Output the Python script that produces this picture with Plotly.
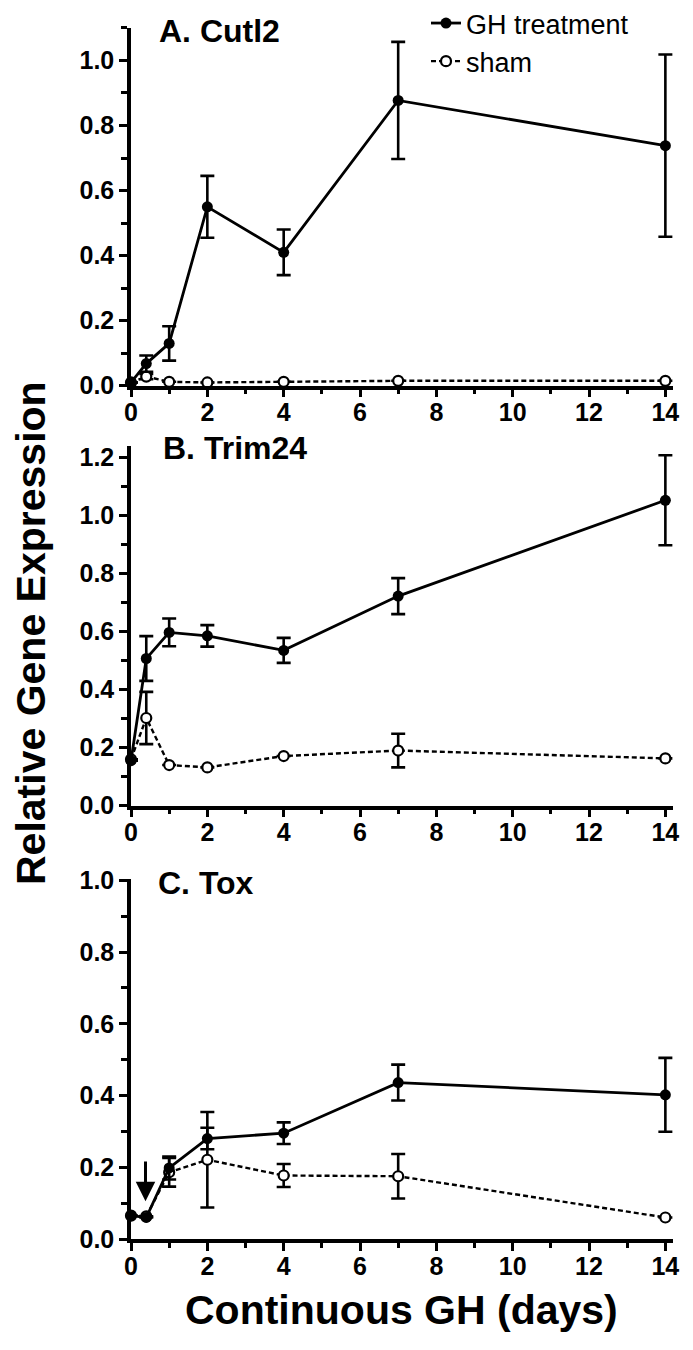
import plotly.graph_objects as go

days = [0, 0.4, 1, 2, 4, 7, 14]

cutl2_gh = [0.01, 0.068, 0.13, 0.55, 0.41, 0.877, 0.738]
cutl2_gh_err = [None, 0.025, 0.053, 0.095, 0.07, 0.18, 0.28]
cutl2_sham = [0.01, 0.028, 0.012, 0.01, 0.012, 0.015, 0.015]
cutl2_sham_err = [None, 0.008, None, None, None, None, None]

trim24_gh = [0.155, 0.507, 0.597, 0.585, 0.535, 0.722, 1.052]
trim24_gh_err = [None, 0.077, 0.048, 0.037, 0.043, 0.062, 0.155]
trim24_sham = [0.16, 0.302, 0.14, 0.132, 0.171, 0.19, 0.163]
trim24_sham_err = [None, 0.09, None, None, None, 0.058, None]

tox_gh = [0.065, 0.06, 0.198, 0.28, 0.295, 0.436, 0.402]
tox_gh_err = [None, None, 0.032, 0.03, 0.03, 0.05, 0.103]
tox_sham = [0.065, 0.063, 0.186, 0.221, 0.177, 0.175, 0.06]
tox_sham_err = [None, None, 0.04, 0.133, 0.032, 0.062, None]

panel_titles = ["A. Cutl2", "B. Trim24", "C. Tox"]
series_names = ["GH treatment", "sham"]
x_ticks = [0, 2, 4, 6, 8, 10, 12, 14]

FONT = "Liberation Sans, Arial, sans-serif"

W, H = 693, 1350
ML, MR, MT, MB = 123, 28, 19, 119
PH = H - MT - MB
PW = W - ML - MR


def py(p):
    return (H - MB - p) / PH


def px(p):
    return (p - ML) / PW


panels = [
    (cutl2_gh, cutl2_gh_err, cutl2_sham, cutl2_sham_err, [0, 1.1], [py(377.7), py(19.9)]),
    (trim24_gh, trim24_gh_err, trim24_sham, trim24_sham_err, [0, 1.24], [py(797.7), py(437.7)]),
    (tox_gh, tox_gh_err, tox_sham, tox_sham_err, [0, 1.005], [0, py(870.5)]),
]

fig = go.Figure()

layout_axes = {}
for i, (gh, gh_err, sh, sh_err, yr, dom) in enumerate(panels):
    n = i + 1
    xa = "x" if n == 1 else f"x{n}"
    ya = "y" if n == 1 else f"y{n}"
    fig.add_trace(go.Scatter(
        x=days, y=sh, name=series_names[1], xaxis=xa, yaxis=ya,
        mode="lines+markers", showlegend=(n == 1), legendrank=2,
        line=dict(color="black", width=2.4, dash="5px,3px"),
        marker=dict(symbol="circle", size=10, color="white",
                    line=dict(color="black", width=2.2)),
        error_y=dict(type="data", array=sh_err, color="black",
                     thickness=2.6, width=7),
        cliponaxis=False,
    ))
    fig.add_trace(go.Scatter(
        x=days, y=gh, name=series_names[0], xaxis=xa, yaxis=ya,
        mode="lines+markers", showlegend=(n == 1), legendrank=1,
        line=dict(color="black", width=2.8),
        marker=dict(symbol="circle", size=11, color="black"),
        error_y=dict(type="data", array=gh_err, color="black",
                     thickness=2.6, width=7),
        cliponaxis=False,
    ))
    xkey = "xaxis" if n == 1 else f"xaxis{n}"
    ykey = "yaxis" if n == 1 else f"yaxis{n}"
    layout_axes[xkey] = dict(
        domain=[0, 1], anchor=ya, range=[0, 14.2],
        tickvals=x_ticks, ticktext=[str(v) for v in x_ticks],
        ticks="outside", ticklen=8, tickwidth=3, tickcolor="black",
        ticklabelstandoff=-6,
        showline=True, linewidth=3.5, linecolor="black",
        showgrid=False, zeroline=False,
        tickfont=dict(family=FONT, size=25, color="black", weight="bold"),
        minor=dict(dtick=1, tick0=0, ticks="outside", ticklen=5,
                   tickwidth=3, tickcolor="black", showgrid=False),
    )
    layout_axes[ykey] = dict(
        domain=dom, anchor=xa, range=yr, dtick=0.2, tick0=0,
        tickformat=".1f",
        ticks="outside", ticklen=8, tickwidth=3, tickcolor="black",
        showline=True, linewidth=3.5, linecolor="black",
        showgrid=False, zeroline=False,
        tickfont=dict(family=FONT, size=25, color="black", weight="bold"),
        minor=dict(dtick=0.1, tick0=0, ticks="outside", ticklen=6,
                   tickwidth=3, tickcolor="black", showgrid=False),
    )

title_pos = [(149, 23), (153, 440), (148, 875)]
annotations = []
for t, (tx, ty) in zip(panel_titles, title_pos):
    annotations.append(dict(
        text=t, xref="paper", yref="paper", x=px(tx), y=py(ty),
        xanchor="left", yanchor="middle", showarrow=False,
        font=dict(family=FONT, size=32, color="black", weight="bold"),
    ))

annotations.append(dict(
    text="Relative Gene Expression", xref="paper", yref="paper",
    x=px(23), y=py(625), xanchor="center", yanchor="middle",
    textangle=-90, showarrow=False,
    font=dict(family=FONT, size=41, color="black", weight="bold"),
))
annotations.append(dict(
    text="Continuous GH (days)", xref="paper", yref="paper",
    x=px(393), y=py(1302), xanchor="center", yanchor="middle",
    showarrow=False,
    font=dict(family=FONT, size=41, color="black", weight="bold"),
))
# arrow in panel C
annotations.append(dict(
    x=0.38, y=0.105, xref="x3", yref="y3",
    ax=0.38, ay=0.22, axref="x3", ayref="y3",
    showarrow=True, arrowhead=2, arrowsize=1.3, arrowwidth=3,
    arrowcolor="black", text="", standoff=0,
))

fig.update_layout(
    width=W, height=H,
    margin=dict(l=ML, r=MR, t=MT, b=MB, autoexpand=False),
    paper_bgcolor="white", plot_bgcolor="white",
    showlegend=True,
    legend=dict(
        x=px(418), y=py(-9), xanchor="left", yanchor="top",
        font=dict(family=FONT, size=27, color="black"),
        bgcolor="rgba(0,0,0,0)", borderwidth=0, tracegroupgap=0,
        itemwidth=30,
    ),
    annotations=annotations,
    **layout_axes,
)

fig.write_html("out.html")
